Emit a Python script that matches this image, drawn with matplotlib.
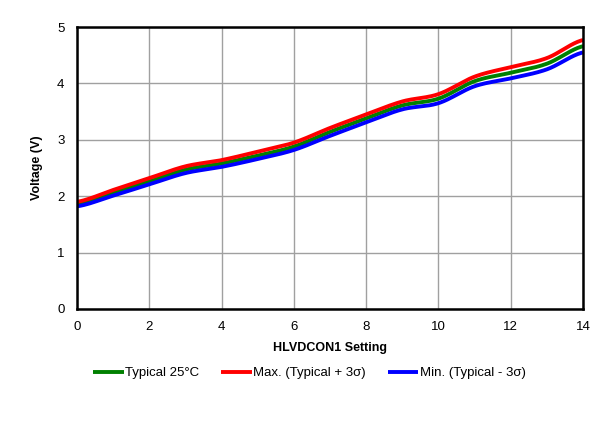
import numpy as np
import matplotlib
matplotlib.use("Agg")
import matplotlib.pyplot as plt

settings = list(range(15))
typical = [1.86, 2.06, 2.26, 2.47, 2.58, 2.72, 2.88, 3.14, 3.38, 3.61, 3.73, 4.04, 4.19, 4.35, 4.66]
vmax = [1.90, 2.11, 2.32, 2.53, 2.64, 2.79, 2.95, 3.21, 3.45, 3.68, 3.81, 4.12, 4.29, 4.45, 4.77]
vmin = [1.82, 2.01, 2.21, 2.41, 2.52, 2.66, 2.82, 3.07, 3.31, 3.54, 3.65, 3.95, 4.09, 4.25, 4.55]
labels = ["Typical 25°C", "Max. (Typical + 3σ)", "Min. (Typical - 3σ)"]
colors = ["#008000", "#ff0000", "#0000ff"]
xticks = [0, 2, 4, 6, 8, 10, 12, 14]
yticks = [0, 1, 2, 3, 4, 5]


def smooth(x, y, n=20):
    # Catmull-Rom rendering of the read points (Excel-style smoothed line)
    x = np.asarray(x, float)
    y = np.asarray(y, float)
    xs, ys = [], []
    for i in range(len(x) - 1):
        p0 = y[i - 1] if i > 0 else y[i]
        p1, p2 = y[i], y[i + 1]
        p3 = y[i + 2] if i + 2 < len(y) else y[i + 1]
        t = np.linspace(0, 1, n, endpoint=False)
        yy = 0.5 * ((2 * p1) + (-p0 + p2) * t + (2 * p0 - 5 * p1 + 4 * p2 - p3) * t ** 2
                    + (-p0 + 3 * p1 - 3 * p2 + p3) * t ** 3)
        xs.append(x[i] + (x[i + 1] - x[i]) * t)
        ys.append(yy)
    xs.append([x[-1]])
    ys.append([y[-1]])
    return np.concatenate(xs), np.concatenate(ys)


plt.rcParams['font.family'] = ['Liberation Sans', 'DejaVu Sans']

fig = plt.figure(figsize=(5.95, 4.33), dpi=100)
ax = fig.add_axes([0.1294, 0.2864, 0.8506, 0.6512])

for data, lab, c in zip([typical, vmax, vmin], labels, colors):
    sx, sy = smooth(settings, data)
    ax.plot(sx, sy, color=c, lw=2.8, label=lab, solid_capstyle='butt')

ax.set_xlim(0, 14)
ax.set_ylim(0, 5)
ax.set_xticks(xticks)
ax.set_yticks(yticks)
ax.grid(True, color='#a0a0a0', lw=1)
ax.set_axisbelow(True)
ax.tick_params(length=0, labelsize=9.5)
ax.tick_params(axis='x', pad=9)
ax.tick_params(axis='y', pad=9)
for s in ax.spines.values():
    s.set_color('black')
    s.set_linewidth(1.8)

ax.set_xlabel("HLVDCON1 Setting", fontsize=9, fontweight='bold', labelpad=6)
ax.set_ylabel("Voltage (V)", fontsize=9, fontweight='bold', labelpad=10)

h, l = ax.get_legend_handles_labels()
fig.legend(h, l, loc='center', bbox_to_anchor=(0.52, 0.138), ncol=3, frameon=False,
           fontsize=9.5, handlelength=2.3, handletextpad=0.1, columnspacing=1.7)

fig.savefig("out.png", dpi=100)
